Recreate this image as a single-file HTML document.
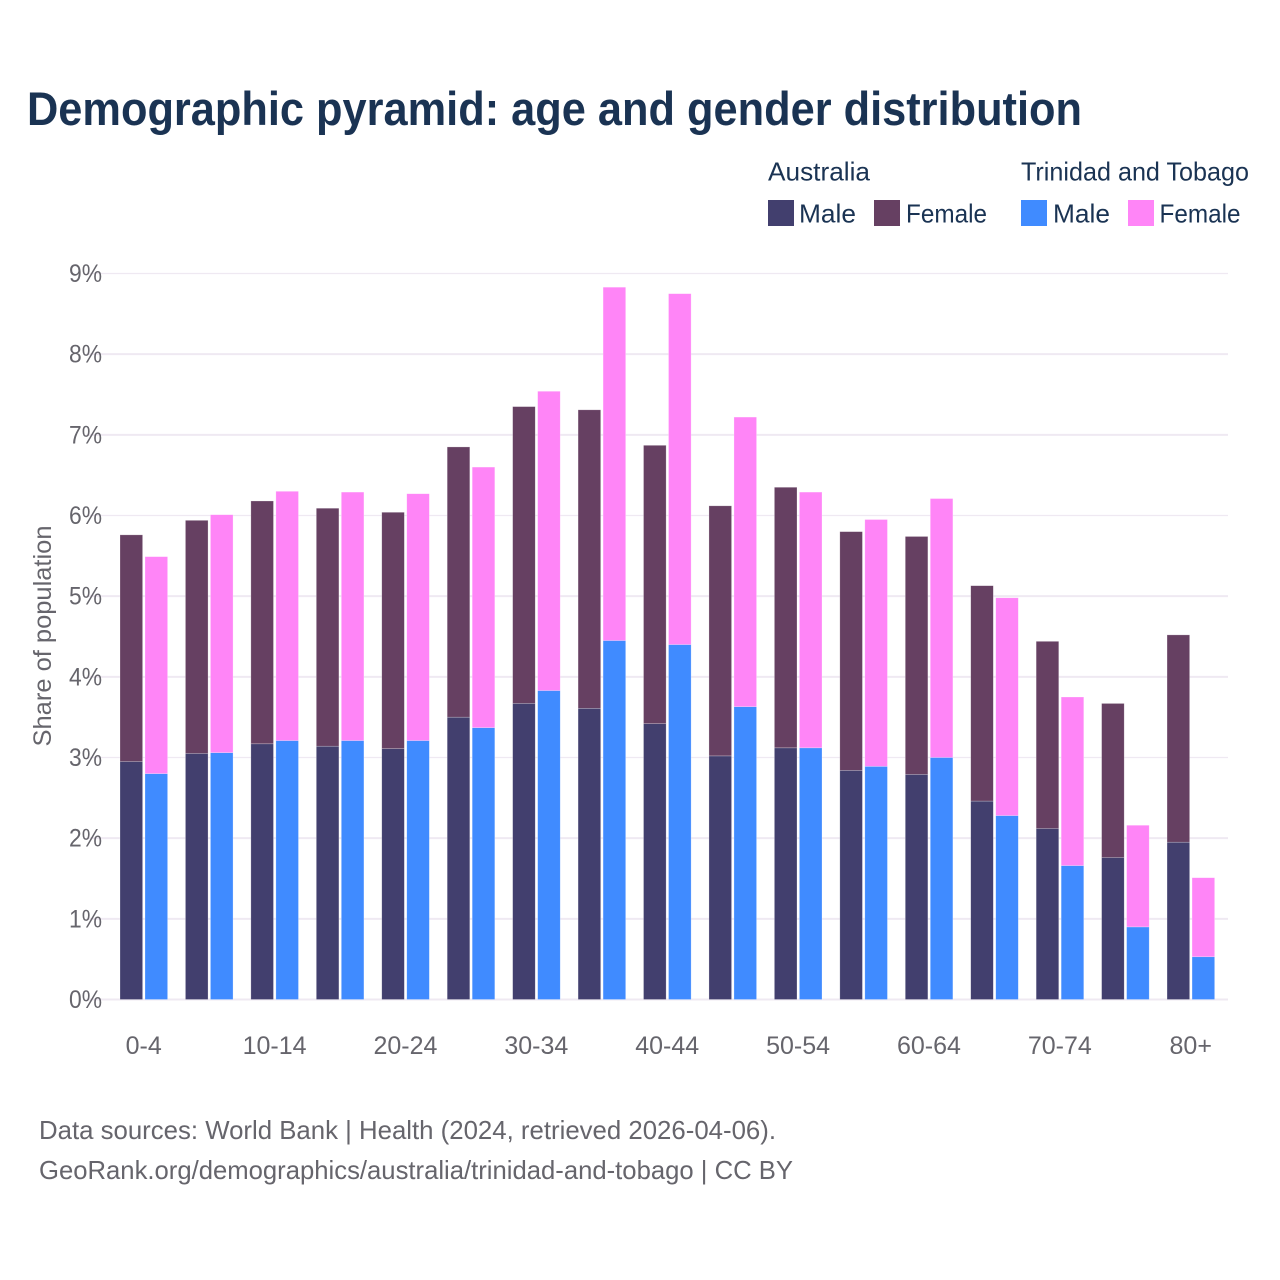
<!DOCTYPE html>
<html lang="en">
<head>
<meta charset="utf-8">
<title>Demographic pyramid: age and gender distribution</title>
<style>
html,body{margin:0;padding:0;background:#fff;width:1280px;height:1280px;overflow:hidden}
svg{display:block}
text{font-family:"Liberation Sans",sans-serif}
.tick{font-size:25px;fill:#66656c}
.legend{font-size:26px;fill:#1a3353}
.note{font-size:26px;fill:#66656c}
</style>
</head>
<body>
<svg id="chart" xmlns="http://www.w3.org/2000/svg" width="1280" height="1280" viewBox="0 0 1280 1280">
  <rect x="0" y="0" width="1280" height="1280" fill="#ffffff"/>
  <text x="27" y="125" font-size="47" font-weight="700" fill="#1a3353" textLength="1055" lengthAdjust="spacingAndGlyphs">Demographic pyramid: age and gender distribution</text>

  <g>
    <text class="legend" x="768" y="180.5" textLength="102" lengthAdjust="spacingAndGlyphs">Australia</text>
    <text class="legend" x="1021" y="180.5" textLength="228" lengthAdjust="spacingAndGlyphs">Trinidad and Tobago</text>
    <rect x="768" y="200" width="26" height="26" fill="#423f6e"/>
    <text class="legend" x="799" y="222.5" textLength="57" lengthAdjust="spacingAndGlyphs">Male</text>
    <rect x="874" y="200" width="26" height="26" fill="#664062"/>
    <text class="legend" x="906" y="222.5" textLength="81" lengthAdjust="spacingAndGlyphs">Female</text>
    <rect x="1021" y="200" width="26" height="26" fill="#408bff"/>
    <text class="legend" x="1053" y="222.5" textLength="57" lengthAdjust="spacingAndGlyphs">Male</text>
    <rect x="1128" y="200" width="26" height="26" fill="#ff85f7"/>
    <text class="legend" x="1159.5" y="222.5" textLength="81" lengthAdjust="spacingAndGlyphs">Female</text>
  </g>

  <g id="grid"></g>
  <g id="yticks"></g>
  <g id="bars"></g>
  <g id="xticks"></g>

  <text x="0" y="0" transform="translate(51,636) rotate(-90)" text-anchor="middle" font-size="25" fill="#66656c" textLength="221" lengthAdjust="spacingAndGlyphs">Share of population</text>

  <text class="note" x="39" y="1139" textLength="737" lengthAdjust="spacingAndGlyphs">Data sources: World Bank | Health (2024, retrieved 2026-04-06).</text>
  <text class="note" x="39" y="1179" textLength="754" lengthAdjust="spacingAndGlyphs">GeoRank.org/demographics/australia/trinidad-and-tobago | CC BY</text>
</svg>
<script>
const ageGroups = ['0-4','5-9','10-14','15-19','20-24','25-29','30-34','35-39','40-44','45-49','50-54','55-59','60-64','65-69','70-74','75-79','80+'];
const xTickLabels = ['0-4','','10-14','','20-24','','30-34','','40-44','','50-54','','60-64','','70-74','','80+'];
const yTicks = [0,1,2,3,4,5,6,7,8,9];
const australiaMale = [2.95,3.05,3.17,3.14,3.11,3.50,3.67,3.61,3.42,3.02,3.12,2.84,2.79,2.46,2.12,1.76,1.95];
const australiaFemale = [2.81,2.89,3.01,2.95,2.93,3.35,3.68,3.70,3.45,3.10,3.23,2.96,2.95,2.67,2.32,1.91,2.57];
const trinidadMale = [2.80,3.06,3.21,3.21,3.21,3.37,3.83,4.45,4.40,3.63,3.12,2.89,3.00,2.28,1.66,0.90,0.53];
const trinidadFemale = [2.69,2.95,3.09,3.08,3.06,3.23,3.71,4.38,4.35,3.59,3.17,3.06,3.21,2.70,2.09,1.26,0.98];

const SVGNS = 'http://www.w3.org/2000/svg';
const plot = {left:86.5,right:1228,top:273.5,bottom:999.5,maxValue:9,firstBand:120,bandStep:65.44,barWidth:22.6,barGap:25};
function yScale(v){return plot.bottom-(v/plot.maxValue)*(plot.bottom-plot.top);}
function xScale(i){return plot.firstBand+i*plot.bandStep;}
function make(tag,attrs,parent){
  const el=document.createElementNS(SVGNS,tag);
  for(const k in attrs){el.setAttribute(k,attrs[k]);}
  parent.appendChild(el);
  return el;
}
const gridG=document.getElementById('grid');
const yG=document.getElementById('yticks');
const xG=document.getElementById('xticks');
const barsG=document.getElementById('bars');

yTicks.forEach(function(t){
  const line=make('line',{x1:plot.left,x2:plot.right,y1:yScale(t),y2:yScale(t),stroke:'#efe9f2','stroke-width':t%3===0&&t!==0?1.2:2},gridG);
  
  
  const label=make('text',{x:69,y:yScale(t)+8.5,'class':'tick',textLength:33,lengthAdjust:'spacingAndGlyphs'},yG);
  label.textContent=t+'%';
  
  
});

function drawBar(x,base,value,fill,name){
  const top=yScale(base+value);
  const rect=make('rect',{x:x,y:top,width:plot.barWidth,height:yScale(base)-top,fill:fill,stroke:'#ffffff','stroke-opacity':0.4,'stroke-width':0.6},barsG);
  
  
}
ageGroups.forEach(function(age,i){
  const x=xScale(i);
  drawBar(x,0,australiaMale[i],'#423f6e','bar-australia-male-'+age);
  drawBar(x,australiaMale[i],australiaFemale[i],'#664062','bar-australia-female-'+age);
  drawBar(x+plot.barGap,0,trinidadMale[i],'#408bff','bar-trinidad-male-'+age);
  drawBar(x+plot.barGap,trinidadMale[i],trinidadFemale[i],'#ff85f7','bar-trinidad-female-'+age);
  if(xTickLabels[i]){
    const label=make('text',{x:x+23.7,y:1054,'text-anchor':'middle','class':'tick'},xG);
    label.textContent=xTickLabels[i];
    
    
  }
});
</script>
</body>
</html>
